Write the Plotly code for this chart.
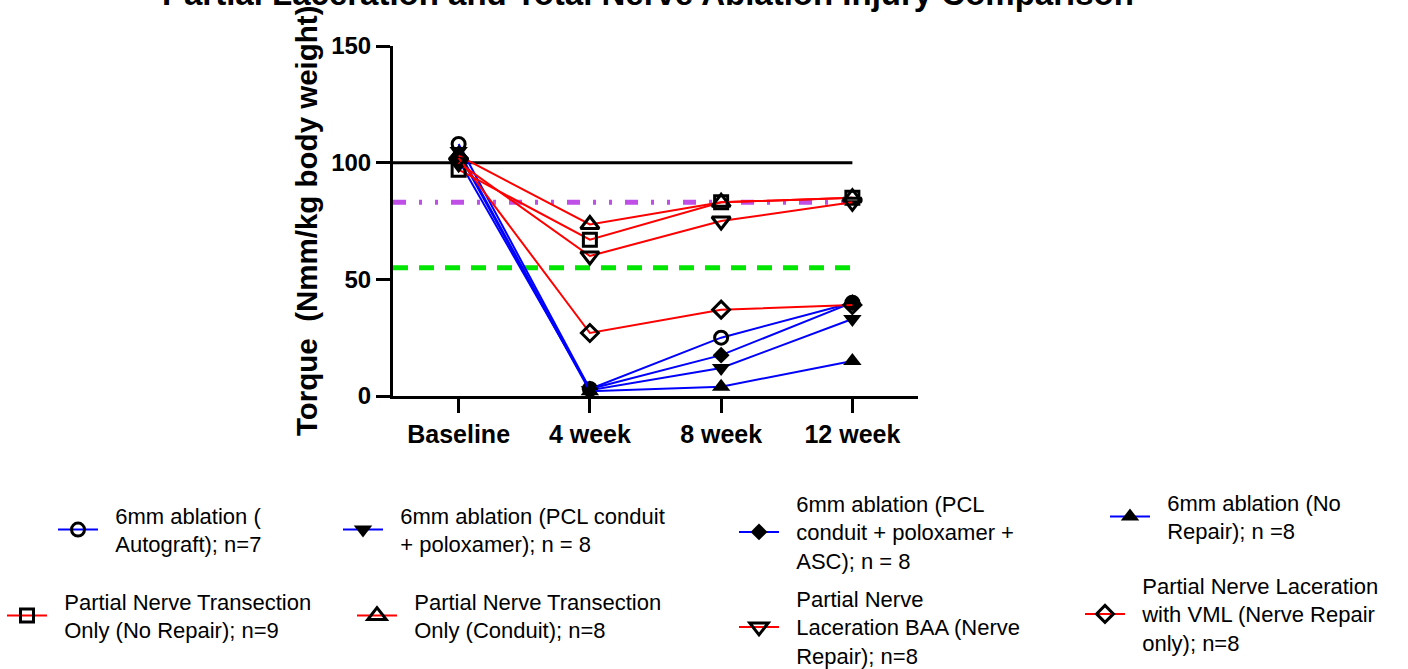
import plotly.graph_objects as go

# Time points on the x axis
categories = ["Baseline", "4 week", "8 week", "12 week"]

# Torque (Nmm/kg body weight) per group and time point
autograft = [108, 3, 25, 40]
pcl_poloxamer = [105, 2.5, 12, 33]
pcl_poloxamer_asc = [101, 3, 17.5, 40]
ablation_no_repair = [104, 2, 4, 15]
transection_no_repair = [97, 67, 83, 85]
transection_conduit = [103, 73.5, 83, 85]
laceration_baa = [100, 60, 75, 83]
laceration_vml = [102, 27, 37, 39]

# Horizontal reference levels: baseline, dash-dot-dot, dashed
reference_levels = [100, 83, 55]

y_ticks = [0, 50, 100, 150]

FONT = "Liberation Sans, Arial, sans-serif"
BLUE = "#0000FF"
RED = "#FF0000"

groups = [
    (["6mm ablation (", "Autograft); n=7"], autograft, BLUE, "circle-open"),
    (["6mm ablation (PCL conduit", "+ poloxamer); n = 8"], pcl_poloxamer, BLUE, "triangle-down"),
    (["6mm ablation (PCL", "conduit + poloxamer +", "ASC); n = 8"], pcl_poloxamer_asc, BLUE, "diamond"),
    (["6mm ablation (No", "Repair); n =8"], ablation_no_repair, BLUE, "triangle-up"),
    (["Partial Nerve Transection", "Only (No Repair); n=9"], transection_no_repair, RED, "square-open"),
    (["Partial Nerve Transection", "Only (Conduit); n=8"], transection_conduit, RED, "triangle-up-open"),
    (["Partial Nerve", "Laceration BAA (Nerve", "Repair); n=8"], laceration_baa, RED, "triangle-down-open"),
    (["Partial Nerve Laceration", "with VML (Nerve Repair", "only); n=8"], laceration_vml, RED, "diamond-open"),
]

# Legend anchor (pixel) for each group: left edge, vertical centre
legend_spots = [
    (53, 530), (338, 530), (734, 532), (1105, 517),
    (2, 616), (352, 616), (734, 627), (1080, 614),
]

W, H = 1408, 669
INDENT = "\u00a0\u00a0"

fig = go.Figure()

for i, (lines, values, colour, symbol) in enumerate(groups):
    size = 16 if "triangle" in symbol else 13
    fig.add_trace(go.Scatter(
        x=categories,
        y=values,
        name="<br>".join(INDENT + s for s in lines),
        mode="lines+markers",
        line=dict(color=colour, width=2),
        marker=dict(symbol=symbol, size=size, color="black",
                    line=dict(color="black", width=3 if symbol.endswith("open") else 0)),
        cliponaxis=False,
        legend="legend" if i == 0 else f"legend{i + 1}",
    ))

# Reference lines spanning from the y axis to the last time point
ref_styles = [
    dict(color="black", width=3, dash="solid"),
    dict(color="#BF4FE6", width=5, dash="13px,13px,3px,13px,3px,13px"),
    dict(color="#00E600", width=5, dash="15px,11px"),
]
for level, style in zip(reference_levels, ref_styles):
    fig.add_shape(type="line", xref="x", yref="y",
                  x0=-0.5, x1=len(categories) - 1, y0=level, y1=level,
                  line=style, layer="below")

legend_layout = {}
for i, (lx, ly) in enumerate(legend_spots):
    key = "legend" if i == 0 else f"legend{i + 1}"
    legend_layout[key] = dict(
        x=lx / W, y=1 - ly / H, xref="container", yref="container",
        xanchor="left", yanchor="middle",
        font=dict(family=FONT, size=22, color="black"),
        bgcolor="rgba(0,0,0,0)", borderwidth=0,
        itemwidth=40, valign="middle",
    )

fig.update_layout(
    width=W, height=H,
    margin=dict(l=393, r=490, t=46, b=273, autoexpand=False),
    paper_bgcolor="white", plot_bgcolor="white",
    font=dict(family=FONT, color="black"),
    showlegend=True,
    **legend_layout,
)

fig.update_xaxes(
    type="category", range=[-0.5, 3.5], tickangle=0,
    showline=True, linecolor="black", linewidth=3,
    ticks="outside", ticklen=14, tickwidth=3, tickcolor="black",
    tickfont=dict(family=FONT, size=25, color="black", weight="bold"),
    showgrid=False, zeroline=False, automargin=False,
)
fig.update_yaxes(
    range=[0, 150], tickvals=y_ticks,
    showline=True, linecolor="black", linewidth=3,
    ticks="outside", ticklen=14, tickwidth=3, tickcolor="black",
    tickfont=dict(family=FONT, size=24, color="black", weight="bold"),
    showgrid=False, zeroline=False, automargin=False,
)

fig.add_annotation(
    text="Partial Laceration and Total Nerve Ablation Injury Comparison",
    xref="paper", yref="paper", x=(648 - 393) / 525, y=1.15,
    xanchor="center", yanchor="middle", showarrow=False,
    font=dict(family=FONT, size=33, color="black", weight="bold"),
)
fig.add_annotation(
    text="Torque\u00a0 (Nmm/kg body weight)",
    xref="paper", yref="paper", x=(306 - 393) / 525, y=(396 - 221) / 350,
    xanchor="center", yanchor="middle", textangle=-90, showarrow=False,
    font=dict(family=FONT, size=29.5, color="black", weight="bold"),
)

fig.write_html("out.html")
